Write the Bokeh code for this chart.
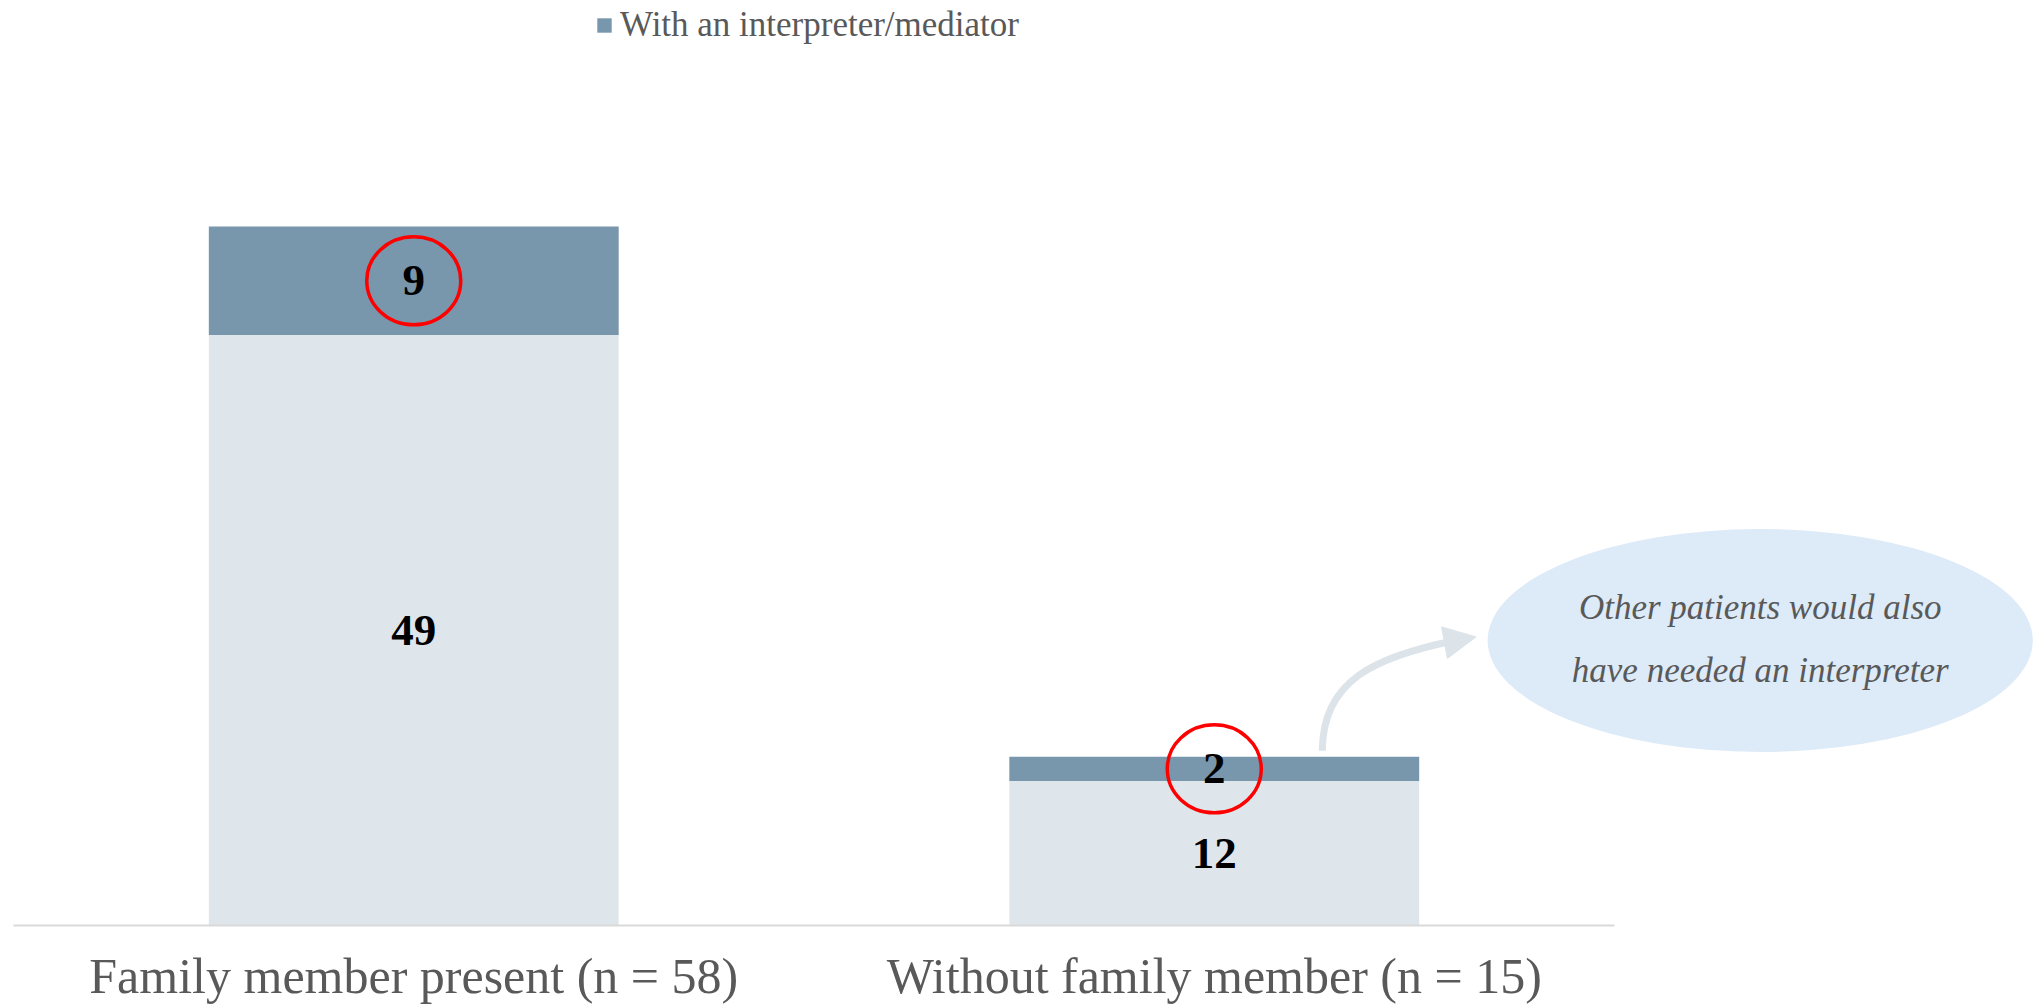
from bokeh.plotting import figure
from bokeh.models import Range1d, FixedTicker, Legend, LegendItem, Arrow, NormalHead, ColumnDataSource
from bokeh.embed import file_html
from bokeh.resources import INLINE
from bokeh.core.properties import value

# ---- data ----
categories = ["Family member present (n = 58)", "Without family member (n = 15)"]
without_interpreter = [49, 12]
with_interpreter = [9, 2]
legend_label = "With an interpreter/mediator"
callout_lines = ["Other patients would also", "have needed an interpreter"]

LIGHT = "#DFE6EB"
DARK = "#7896AC"
SERIF = "Liberation Serif"

n = len(categories)
xs = [i + 0.5 for i in range(n)]
light_top = list(without_interpreter)
dark_bottom = list(without_interpreter)
dark_top = [a + b for a, b in zip(without_interpreter, with_interpreter)]
light_mid = [a / 2 for a in without_interpreter]
dark_mid = [a + b / 2 for a, b in zip(without_interpreter, with_interpreter)]

p = figure(width=2033, height=1006, output_backend="svg", toolbar_location=None,
           x_range=Range1d(0, 2.5234), y_range=Range1d(0, 76.76),
           min_border_left=13, min_border_right=0, min_border_top=0, min_border_bottom=81)
p.outline_line_color = None
p.grid.visible = False
p.yaxis.visible = False
p.background_fill_color = "white"

src = ColumnDataSource(dict(x=xs, lt=light_top, db=dark_bottom, dt=dark_top,
                            lm=light_mid, dm=dark_mid,
                            ll=[str(v) for v in without_interpreter],
                            dl=[str(v) for v in with_interpreter]))

p.vbar(x="x", bottom=0, top="lt", width=0.512, source=src, fill_color=LIGHT, line_color=None)
r_dark = p.vbar(x="x", bottom="db", top="dt", width=0.512, source=src, fill_color=DARK, line_color=None)

# value labels
p.text(x="x", y="lm", text="ll", source=src, text_font=value(SERIF), text_font_style="bold",
       text_font_size="45px", text_align="center", text_baseline="middle", text_color="black")
p.text(x="x", y="dm", text="dl", source=src, text_font=value(SERIF), text_font_style="bold",
       text_font_size="45px", text_align="center", text_baseline="middle", text_color="black")

# red highlight circles around the interpreter counts
p.ellipse(x="x", y="dm", width=94, height=88, width_units="screen", height_units="screen",
          source=src, fill_color=None, line_color="#FF0000", line_width=3.5)

# callout bubble
p.ellipse(x=[2.182], y=[23.65], width=[0.681], height=[18.5], fill_color="#DDEAF7", line_color=None)
p.text(x=[2.182, 2.182], y=[26.4, 21.2], text=callout_lines, text_font=value(SERIF),
       text_font_style="italic", text_font_size="35px", text_align="center",
       text_baseline="middle", text_color="#595959")

# curved arrow
ARROW = "#DCE3E9"
p.bezier(x0=[1.635], y0=[14.5], cx0=[1.635], cy0=[20.3], cx1=[1.700], cy1=[22.3],
         x1=[1.801], y1=[23.65], line_color=ARROW, line_width=7)
p.add_layout(Arrow(end=NormalHead(size=32, fill_color=ARROW, line_color=ARROW),
                   x_start=1.790, y_start=23.5, x_end=1.827, y_end=23.95,
                   line_color=ARROW, line_width=7))

# x axis
ax = p.xaxis[0]
ax.ticker = FixedTicker(ticks=xs)
ax.major_label_overrides = {x: c for x, c in zip(xs, categories)}
ax.bounds = (0, n)
ax.axis_line_color = "#D9D9D9"
ax.axis_line_width = 2
ax.major_tick_line_color = None
ax.major_tick_out = 0
ax.major_tick_in = 0
ax.minor_tick_line_color = None
ax.major_label_text_font = SERIF
ax.major_label_text_font_size = "50px"
ax.major_label_text_color = "#595959"
ax.major_label_standoff = 22

legend = Legend(items=[LegendItem(label=legend_label, renderers=[r_dark])],
                location=(582, 880), orientation="horizontal",
                label_text_font=SERIF, label_text_font_size="35px", label_text_color="#595959",
                glyph_width=18, glyph_height=18, label_standoff=7, padding=0, margin=0,
                border_line_color=None, background_fill_alpha=0)
p.add_layout(legend)

open("out.html", "w").write(file_html(p, INLINE))
